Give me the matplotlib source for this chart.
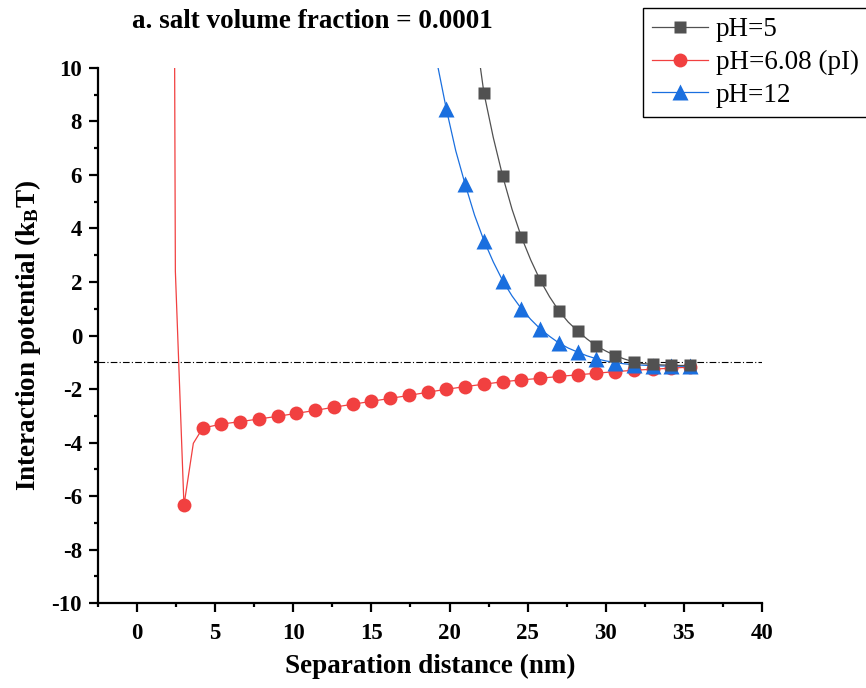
import matplotlib
matplotlib.use("Agg")
import matplotlib.pyplot as plt
from matplotlib.ticker import MultipleLocator
from matplotlib.lines import Line2D

plt.rcParams["font.family"] = ["Liberation Serif", "DejaVu Serif"]
plt.rcParams["mathtext.fontset"] = "custom"
plt.rcParams["mathtext.rm"] = "Liberation Serif:bold"
plt.rcParams["mathtext.bf"] = "Liberation Serif:bold"
plt.rcParams["mathtext.it"] = "Liberation Serif:bold"
plt.rcParams["axes.unicode_minus"] = False

# ---- data -------------------------------------------------------------
# pH = 5 : symbols and the smooth curve through them
ph5_x = [22.2, 23.4, 24.6, 25.8, 27.0, 28.2, 29.4, 30.6, 31.8, 33.0, 34.2, 35.4]
ph5_y = [9.07, 5.96, 3.68, 2.07, 0.92, 0.17, -0.39, -0.75, -0.99, -1.08, -1.11, -1.12]
ph5_line_x = [21.6, 22.2, 22.8, 23.4, 24.0, 24.6, 25.2, 25.8, 26.4, 27.0, 27.6, 28.2,
              28.8, 29.4, 30.0, 30.6, 31.2, 31.8, 32.4, 33.0, 33.6, 34.2, 34.8, 35.4]
ph5_line_y = [11.6, 9.07, 7.40, 5.96, 4.72, 3.68, 2.82, 2.07, 1.45, 0.92, 0.50, 0.17,
              -0.13, -0.39, -0.58, -0.75, -0.88, -0.99, -1.05, -1.08, -1.10, -1.11, -1.12, -1.12]

# pH = 6.08 (isoelectric point)
pi_x = [3.0, 4.2, 5.4, 6.6, 7.8, 9.0, 10.2, 11.4, 12.6, 13.8, 15.0, 16.2, 17.4, 18.6,
        19.8, 21.0, 22.2, 23.4, 24.6, 25.8, 27.0, 28.2, 29.4, 30.6, 31.8, 33.0, 34.2, 35.4]
pi_y = [-6.35, -3.46, -3.31, -3.22, -3.12, -3.02, -2.91, -2.80, -2.68, -2.57, -2.46, -2.35,
        -2.24, -2.12, -2.01, -1.91, -1.82, -1.73, -1.66, -1.60, -1.53, -1.47, -1.41, -1.35,
        -1.30, -1.26, -1.22, -1.18]
pi_line_x = [2.38, 2.45, 3.0, 3.6] + pi_x[1:]
pi_line_y = [14.0, 2.4, -6.35, -4.03] + pi_y[1:]

# pH = 12
ph12_x = [19.8, 21.0, 22.2, 23.4, 24.6, 25.8, 27.0, 28.2, 29.4, 30.6, 31.8, 33.0, 34.2, 35.4]
ph12_y = [8.45, 5.65, 3.55, 2.05, 1.00, 0.25, -0.28, -0.62, -0.87, -1.01, -1.09, -1.13, -1.14, -1.15]
ph12_line_x = [19.2, 19.8, 20.4, 21.0, 21.6, 22.2, 22.8, 23.4, 24.0, 24.6, 25.2, 25.8, 26.4,
               27.0, 27.6, 28.2, 28.8, 29.4, 30.0, 30.6, 31.2, 31.8, 32.4, 33.0, 33.6,
               34.2, 34.8, 35.4]
ph12_line_y = [10.2, 8.45, 6.90, 5.65, 4.50, 3.55, 2.75, 2.05, 1.48, 1.00, 0.60, 0.25, -0.03,
               -0.28, -0.47, -0.62, -0.76, -0.87, -0.95, -1.01, -1.06, -1.09, -1.11, -1.13,
               -1.14, -1.14, -1.15, -1.15]

reference_level = -1.0

series_labels = ["pH=5", "pH=6.08 (pI)", "pH=12"]
series_colors = ["#515151", "#F14040", "#1A6FDF"]

# ---- figure -----------------------------------------------------------
fig = plt.figure(figsize=(8.66, 6.88), dpi=100)
ax = fig.add_axes([0.1132, 0.1235, 0.7667, 0.7777])

ax.axhline(reference_level, color="black", lw=0.8, ls=(0, (6, 2, 1, 2)), zorder=1)

ax.plot(pi_line_x, pi_line_y, color=series_colors[1], lw=0.9, zorder=2)
ax.plot(pi_x, pi_y, ls="none", marker="o", ms=10, color=series_colors[1], mec="none", zorder=3)

ax.plot(ph12_line_x, ph12_line_y, color=series_colors[2], lw=0.9, zorder=4)
ax.plot(ph12_x, ph12_y, ls="none", marker="^", ms=11, color=series_colors[2], mec="none", zorder=5)

ax.plot(ph5_line_x, ph5_line_y, color=series_colors[0], lw=0.9, zorder=4)
ax.plot(ph5_x, ph5_y, ls="none", marker="s", ms=8.5, color=series_colors[0], mec="none", zorder=6)

ax.set_xlim(-2.5, 40)
ax.set_ylim(-10, 10)
ax.xaxis.set_major_locator(MultipleLocator(5))
ax.xaxis.set_minor_locator(MultipleLocator(2.5))
ax.yaxis.set_major_locator(MultipleLocator(2))
ax.yaxis.set_minor_locator(MultipleLocator(1))

for side in ("top", "right"):
    ax.spines[side].set_visible(False)
for side in ("left", "bottom"):
    ax.spines[side].set_linewidth(1.6)

ax.tick_params(which="major", direction="out", length=6.5, width=1.6, labelsize=16.5)
ax.tick_params(axis="x", which="major", pad=8)
ax.tick_params(axis="y", which="major", pad=5)
ax.tick_params(which="minor", direction="out", length=3, width=1.6)
for lab in ax.get_xticklabels() + ax.get_yticklabels():
    lab.set_fontweight("bold")

ax.set_xlabel("Separation distance (nm)", fontsize=19.5, fontweight="bold", labelpad=7)
ax.set_ylabel(r"Interaction potential (k$_{\mathbf{B}}$T)", fontsize=19.5,
              fontweight="bold", labelpad=6)

fig.text(312 / 866, 1 - 22 / 688, "a. salt volume fraction = 0.0001",
         fontsize=19.5, fontweight="bold", ha="center", va="center")

handles = [
    Line2D([], [], color=series_colors[0], lw=0.9, marker="s", ms=8.5, mec="none"),
    Line2D([], [], color=series_colors[1], lw=0.9, marker="o", ms=10, mec="none"),
    Line2D([], [], color=series_colors[2], lw=0.9, marker="^", ms=11, mec="none"),
]
leg = fig.legend(handles, series_labels, loc="upper left",
                 bbox_to_anchor=(643 / 866, 1 - 8 / 688), fontsize=19.5,
                 frameon=True, fancybox=False, edgecolor="black", framealpha=1,
                 handlelength=2.05, handletextpad=0.28, labelspacing=0.28,
                 borderpad=0.35, borderaxespad=0)
leg.get_frame().set_linewidth(1.0)

fig.savefig("out.png", dpi=100)
